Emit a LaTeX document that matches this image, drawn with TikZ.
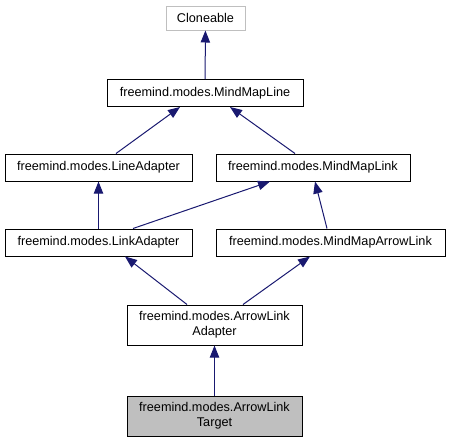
\documentclass[tikz,border=0pt]{standalone}
\usepackage{fontspec}
\setmainfont{Liberation Sans}
\usepackage{tikz}
\usetikzlibrary{calc, arrows.meta}
\definecolor{edgeblue}{HTML}{191970}
\definecolor{boxgray}{HTML}{BFBFBF}

\begin{document}
\begin{tikzpicture}[x=0.75pt,y=-0.75pt,
    cls/.style={draw=black,fill=white,line width=0.75pt,inner sep=0pt,align=center,
      font=\fontsize{9.5}{11.25}\selectfont,minimum height=27*0.75pt},
    inh/.style={draw=edgeblue,line width=0.75pt,-{Triangle[length=9pt,width=7pt]}}]
    \useasboundingbox (0,0) rectangle (449,443);
    % classes
    \node[cls,draw=boxgray,minimum width=79*0.75pt,minimum height=24*0.75pt] (cloneable) at (205.5,18) {Cloneable};
    \node[cls,minimum width=196*0.75pt] (mmline) at (205,93) {freemind.modes.MindMapLine};
    \node[cls,minimum width=187*0.75pt] (lineadapt) at (98.5,167.5) {freemind.modes.LineAdapter};
    \node[cls,minimum width=194*0.75pt] (mmlink) at (313,167.5) {freemind.modes.MindMapLink};
    \node[cls,minimum width=187*0.75pt] (linkadapt) at (98.5,242.5) {freemind.modes.LinkAdapter};
    \node[cls,minimum width=229*0.75pt] (mmarrow) at (330.5,242.5) {freemind.modes.MindMapArrowLink};
    \node[cls,minimum width=175*0.75pt,minimum height=40*0.75pt] (aladapt) at (214.5,325) {freemind.modes.ArrowLink\\Adapter};
    \node[cls,fill=boxgray,minimum width=175*0.75pt,minimum height=40*0.75pt] (target) at (214.5,416) {freemind.modes.ArrowLink\\Target};
    % inheritance
    \draw[inh] (mmline) -- (cloneable);
    \draw[inh] ($(lineadapt.north)+(17.5,0)$) -- ($(mmline.south)+(-25,0)$);
    \draw[inh] ($(mmlink.north)+(-18,0)$) -- ($(mmline.south)+(25,0)$);
    \draw[inh] (linkadapt) -- (lineadapt);
    \draw[inh] ($(linkadapt.north)+(34.5,0)$) -- ($(mmlink.south)+(-43,0)$);
    \draw[inh] ($(mmarrow.north)+(-3.5,0)$) -- ($(mmlink.south)+(2,0)$);
    \draw[inh] ($(aladapt.north)+(-27.5,0)$) -- ($(linkadapt.south)+(26.5,0)$);
    \draw[inh] ($(aladapt.north)+(28.5,0)$) -- ($(mmarrow.south)+(-20.5,0)$);
    \draw[inh] (target) -- (aladapt);
\end{tikzpicture}
\end{document}
